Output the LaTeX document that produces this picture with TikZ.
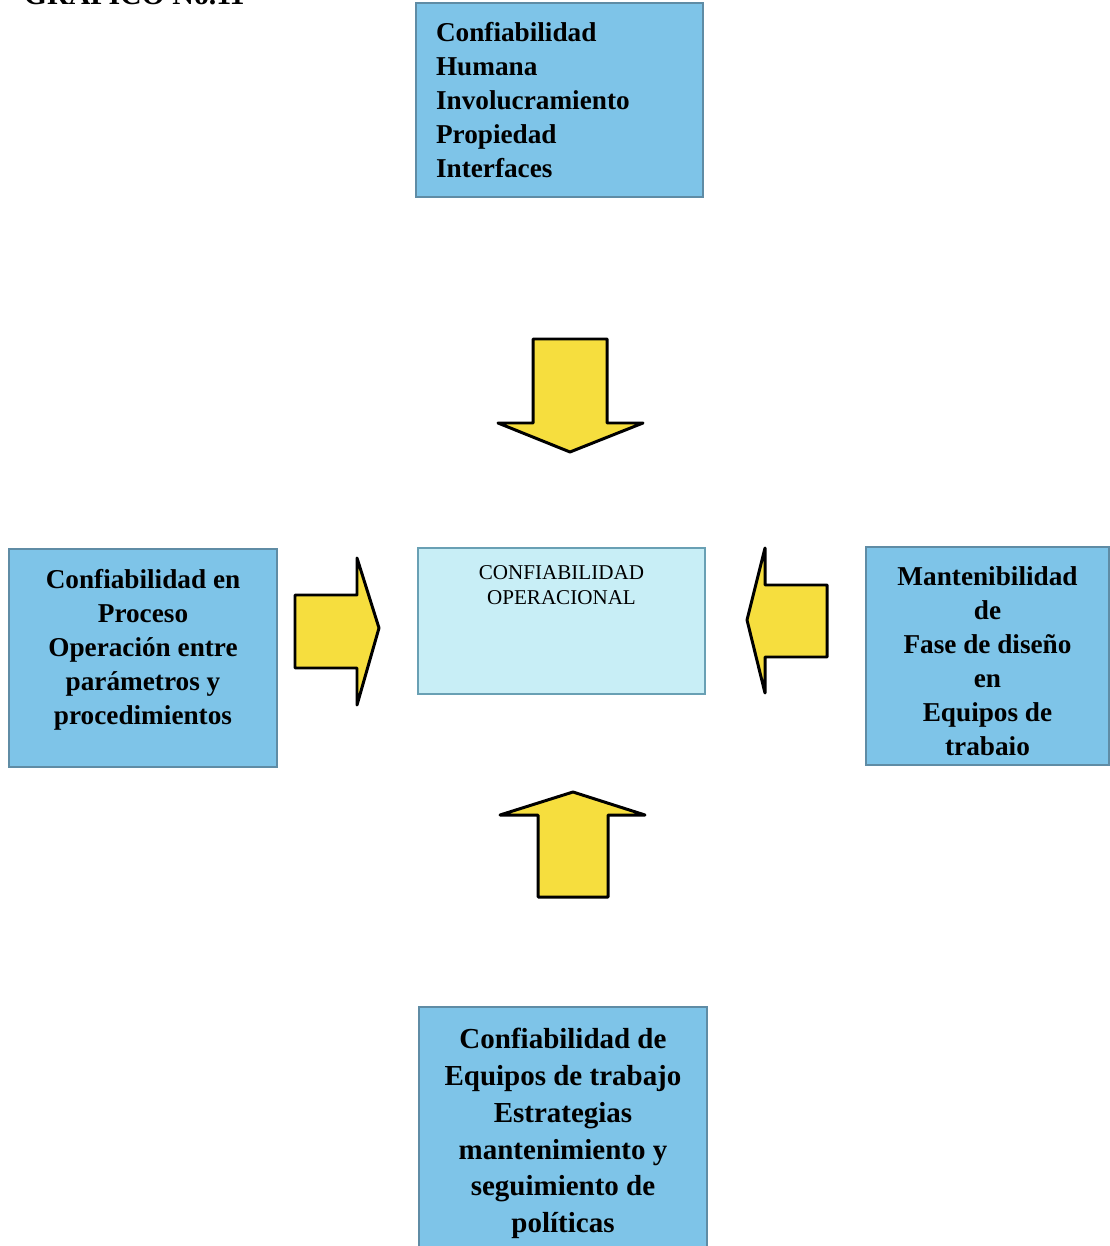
\documentclass[tikz,border=0pt]{standalone}
\usepackage{fontspec}
\setmainfont{Liberation Serif}
\usetikzlibrary{positioning}
\definecolor{boxblue}{RGB}{126,196,232}
\definecolor{boxline}{RGB}{95,140,165}
\definecolor{paleblue}{RGB}{200,238,246}
\definecolor{paleline}{RGB}{105,160,180}
\definecolor{arrowyellow}{RGB}{246,222,62}

\begin{document}
\begin{tikzpicture}[x=0.02cm,y=-0.02cm]
    \tikzstyle{bluebox}=[draw=boxline, fill=boxblue, line width=0.7pt, inner sep=0pt, align=center,
        font=\fontsize{15.5}{19.3}\selectfont\bfseries]
    \tikzstyle{boxtext}=[inner sep=0pt, align=center, font=\fontsize{15.5}{19.3}\selectfont\bfseries]
    \tikzstyle{blockarrow}=[fill=arrowyellow, draw=black, line width=1.7pt, line join=round]
    \useasboundingbox (0,0) rectangle (1109,1246);
    % title, cut at the top edge
    \node[anchor=base east, inner sep=0pt, font=\fontsize{17}{20}\selectfont\bfseries] (title) at (245,5) {GRAFICO No.11};
    % factor boxes
    \node[bluebox, minimum width=5.74cm, minimum height=3.88cm, text width=4.94cm, align=left] (humana) at (559.5,100)
        {Confiabilidad\\Humana\\Involucramiento\\Propiedad\\Interfaces};
    \node[bluebox, minimum width=5.36cm, minimum height=4.36cm] (proceso) at (143,658) {};
    \node[boxtext, yshift=0.16cm] (proceso text) at (proceso.center)
        {Confiabilidad en\\Proceso\\Operación entre\\parámetros y\\procedimientos};
    \node[bluebox, minimum width=4.86cm, minimum height=4.36cm] (diseno) at (987.5,656) {};
    \node[boxtext, yshift=-0.1cm] (diseno text) at (diseno.center)
        {Mantenibilidad\\de\\Fase de diseño\\en\\Equipos de\\trabaio};
    \node[bluebox, minimum width=5.76cm, minimum height=5.06cm, font=\fontsize{16.5}{21}\selectfont\bfseries] (equipos) at (563,1133.5)
        {Confiabilidad de\\Equipos de trabajo\\Estrategias\\mantenimiento y\\seguimiento de\\políticas};
    % central box
    \node[draw=paleline, fill=paleblue, line width=0.7pt, minimum width=5.74cm, minimum height=2.92cm] (operacional) at (561.5,621) {};
    \node[anchor=north, inner sep=0pt, yshift=-0.36cm, align=center, font=\fontsize{12}{14.2}\selectfont] (optext) at (operacional.north)
        {CONFIABILIDAD\\OPERACIONAL};
    % yellow arrows
    \filldraw[blockarrow] (533,339) -- (607,339) -- (607,423) -- (643,423) -- (570,452) -- (498,423) -- (533,423) -- cycle;
    \filldraw[blockarrow] (538,897) -- (608,897) -- (608,815) -- (645,815) -- (573,792) -- (500,815) -- (538,815) -- cycle;
    \filldraw[blockarrow] (295,595) -- (357,595) -- (357,558) -- (379,628) -- (357,705) -- (357,668) -- (295,668) -- cycle;
    \filldraw[blockarrow] (827,585) -- (765,585) -- (765,548) -- (747,620) -- (765,693) -- (765,657) -- (827,657) -- cycle;
\end{tikzpicture}
\end{document}
